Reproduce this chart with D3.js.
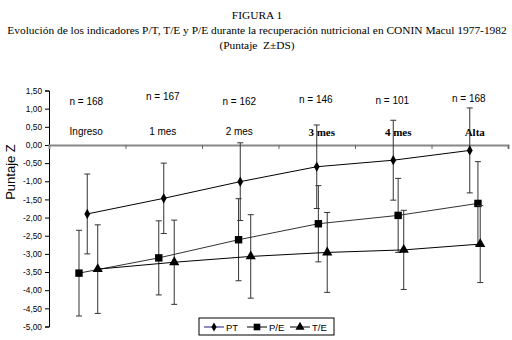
<!DOCTYPE html>
<html>
<head>
<meta charset="utf-8">
<style>
  body { margin: 0; background: #fff; }
  svg { display: block; }
  .title { font-family: "Liberation Serif", "Times New Roman", serif; font-size: 11.4px; fill: #000; white-space: pre; }
  .tick text { font-family: "Liberation Sans", Arial, sans-serif; font-size: 8.3px; fill: #000; }
</style>
</head>
<body>
<script src="https://cdnjs.cloudflare.com/ajax/libs/d3/7.8.5/d3.min.js"></script>
<script>

// categories and counts
var categories = ["Ingreso", "1 mes", "2 mes", "3 mes", "4 mes", "Alta"];
var counts = [168, 167, 162, 146, 101, 168];
var boldLabel = [false, false, false, true, true, true];

// mean Z scores
var ptMean = [-1.90, -1.47, -1.01, -0.60, -0.42, -0.15];
var peMean = [-3.53, -3.11, -2.61, -2.17, -1.94, -1.61];
var teMean = [-3.42, -3.23, -3.07, -2.96, -2.89, -2.73];

// standard deviations
var ptSd = [1.10, 0.97, 1.07, 1.15, 1.10, 1.17];
var peSd = [1.18, 1.02, 1.13, 1.05, 1.02, 1.15];
var teSd = [1.22, 1.16, 1.15, 1.10, 1.09, 1.06];

var yTicks = [1.5, 1, 0.5, 0, -0.5, -1, -1.5, -2, -2.5, -3, -3.5, -4, -4.5, -5];

var width = 512, height = 340;
var svg = d3.select("body").append("svg")
    .attr("width", width)
    .attr("height", height);

// titles
var titles = ["FIGURA 1",
    "Evolución de los indicadores P/T, T/E y P/E durante la recuperación nutricional en CONIN Macul 1977-1982",
    "(Puntaje  Z±DS)"];
svg.selectAll(".title").data(titles).join("text")
    .attr("class", "title")
    .attr("x", 257)
    .attr("y", function (d, i) { return 19 + i * 15; })
    .attr("text-anchor", "middle")
    .text(function (d) { return d; });

var x = d3.scaleLinear().domain([-0.5, 5.5]).range([49, 508]);
var y = d3.scaleLinear().domain([-5, 1.5]).range([326.5, 90.5]);

// y axis
var yAxis = svg.append("g")
    .attr("transform", "translate(49,0)")
    .call(d3.axisLeft(y).tickValues(yTicks).tickSize(4).tickPadding(3)
        .tickFormat(function (d) { return d3.format(".2f")(d).replace(".", ",").replace("−", "-"); }));
yAxis.select(".domain").attr("stroke", "#000");
yAxis.selectAll(".tick line").attr("stroke", "#000");

// zero line with category tick marks
var xAxis = svg.append("g")
    .attr("transform", "translate(0," + y(0) + ")")
    .call(d3.axisBottom(x).tickValues(d3.range(0.5, 6, 1)).tickSize(4).tickFormat(""));
xAxis.select(".domain").attr("stroke", "#888").attr("stroke-width", 2);
xAxis.selectAll(".tick line").attr("stroke", "#666");

svg.append("text")
    .attr("transform", "translate(15,172) rotate(-90)")
    .attr("text-anchor", "middle")
    .style("font-family", "Liberation Sans, Arial, sans-serif")
    .style("font-size", "13px")
    .text("Puntaje Z");

// n labels and category labels
var nDy = [0, -5, 0, -2, -1, -3];
svg.selectAll(".nlab").data(counts).join("text")
    .attr("class", "nlab")
    .attr("x", function (d, i) { return x(i) - 1; })
    .attr("y", function (d, i) { return 105 + nDy[i]; })
    .attr("text-anchor", "middle")
    .style("font-family", "Liberation Sans, Arial, sans-serif")
    .style("font-size", "10px")
    .text(function (d) { return "n = " + d; });

svg.selectAll(".clab").data(categories).join("text")
    .attr("class", "clab")
    .attr("x", function (d, i) { return x(i) + (boldLabel[i] ? 5 : -1); })
    .attr("y", function (d, i) { return boldLabel[i] ? 136 : 135; })
    .attr("text-anchor", "middle")
    .style("font-family", function (d, i) { return boldLabel[i] ? "Liberation Serif, serif" : "Liberation Sans, Arial, sans-serif"; })
    .style("font-weight", function (d, i) { return boldLabel[i] ? "bold" : "normal"; })
    .style("font-size", function (d, i) { return boldLabel[i] ? "11px" : "10px"; })
    .text(function (d) { return d; });

// series: P/E is spread slightly wider than the categories
var series = [
    { name: "PT", mean: ptMean, sd: ptSd, symbol: d3.symbolDiamond, size: 30, line: "#000",
      pos: function (i) { return i; } },
    { name: "P/E", mean: peMean, sd: peSd, symbol: d3.symbolSquare, size: 55, line: "#333",
      pos: function (i) { return i * 1.043 - 0.108; } },
    { name: "T/E", mean: teMean, sd: teSd, symbol: d3.symbolTriangle, size: 45, line: "#000",
      pos: function (i) { return i + 0.137; } }
];

var line = d3.line();

series.forEach(function (s) {
    var pts = s.mean.map(function (m, i) { return { cx: x(s.pos(i)), m: m, sd: s.sd[i] }; });
    var g = svg.append("g");
    // error bars
    var eb = g.selectAll(".eb").data(pts).join("g").attr("stroke", "#333").attr("stroke-width", 1);
    eb.append("line")
        .attr("x1", function (d) { return d.cx; }).attr("x2", function (d) { return d.cx; })
        .attr("y1", function (d) { return y(d.m + d.sd); }).attr("y2", function (d) { return y(d.m - d.sd); });
    eb.append("line")
        .attr("x1", function (d) { return d.cx - 3; }).attr("x2", function (d) { return d.cx + 3; })
        .attr("y1", function (d) { return y(d.m + d.sd); }).attr("y2", function (d) { return y(d.m + d.sd); });
    eb.append("line")
        .attr("x1", function (d) { return d.cx - 3; }).attr("x2", function (d) { return d.cx + 3; })
        .attr("y1", function (d) { return y(d.m - d.sd); }).attr("y2", function (d) { return y(d.m - d.sd); });
    s.g = g;
    s.pts = pts;
});

series.forEach(function (s) {
    s.g.append("path")
        .attr("d", line(s.pts.map(function (d) { return [d.cx, y(d.m)]; })))
        .attr("fill", "none")
        .attr("stroke", s.line)
        .attr("stroke-width", 1);
    s.g.selectAll(".mk").data(s.pts).join("path")
        .attr("class", "mk")
        .attr("transform", function (d) { return "translate(" + d.cx + "," + y(d.m) + ")"; })
        .attr("d", d3.symbol().type(s.symbol).size(s.size))
        .attr("fill", "#000");
});

// legend
var lg = svg.append("g").attr("transform", "translate(199,318)");
lg.append("rect").attr("width", 135).attr("height", 17)
    .attr("fill", "#fff").attr("stroke", "#000").attr("stroke-width", 1);
var li = lg.selectAll(".li").data(series).join("g")
    .attr("transform", function (d, i) { return "translate(" + (5 + i * 43) + ",9)"; });
li.append("line").attr("x1", 0).attr("x2", 20).attr("y1", 0).attr("y2", 0)
    .attr("stroke", function (d, i) { return i === 0 ? "#1a1a80" : "#000"; });
li.append("path").attr("transform", "translate(10,0)")
    .attr("d", function (d) { return d3.symbol().type(d.symbol).size(d.size * 0.8)(); })
    .attr("fill", "#000");
li.append("text").attr("x", 22).attr("y", 3.5)
    .style("font-family", "Liberation Sans, Arial, sans-serif")
    .style("font-size", "9.5px")
    .text(function (d) { return d.name; });

</script>
</body>
</html>
